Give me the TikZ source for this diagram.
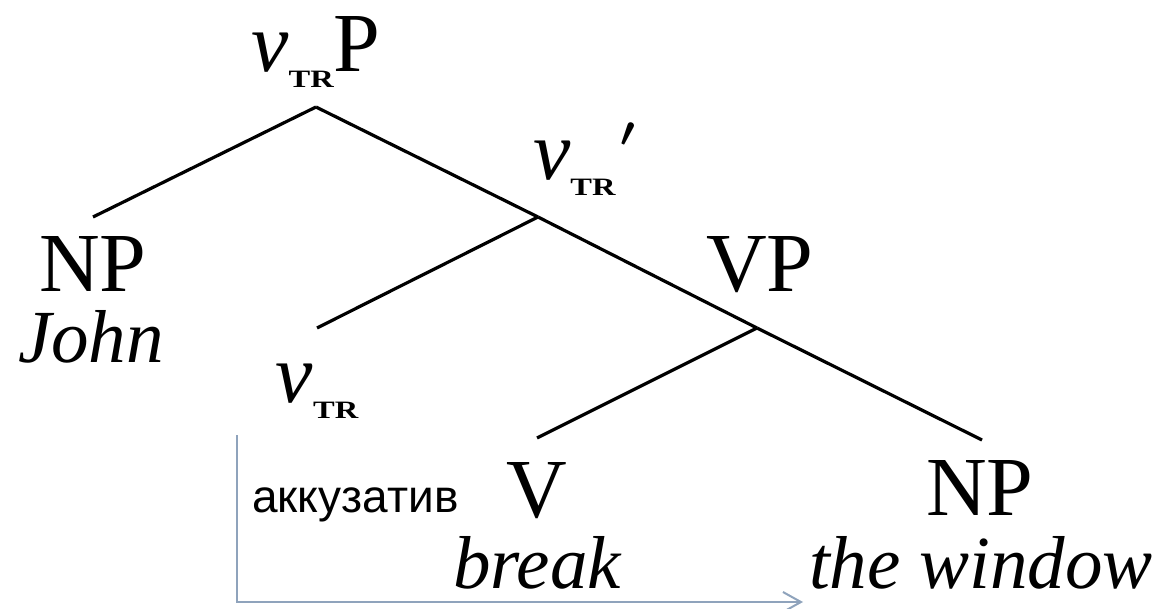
\documentclass[tikz,border=0pt]{standalone}
\usepackage{graphicx}
\usepackage{fontspec}
\setmainfont{Liberation Serif}
\newfontfamily\rusfont{Liberation Sans}
\usetikzlibrary{arrows.meta}
\definecolor{casegray}{RGB}{143,163,188}
\newcommand{\trsub}{\raisebox{-16pt}{\scalebox{1.3}[1]{\fontsize{25}{25}\selectfont\bfseries TR}}}
\newcommand{\barmark}{\raisebox{33pt}{\scalebox{1.7}{\boldmath$\prime$}}}
\tikzset{
  cat/.style={inner sep=0pt, font=\fontsize{84}{84}\selectfont},
  word/.style={inner sep=0pt, font=\fontsize{75}{75}\selectfont\itshape},
  branch/.style={line width=3.2pt},
  casearrow/.style={draw=casegray, line width=2pt, -{Straight Barb[length=18pt,width=20pt]}}
}

\begin{document}
\begin{tikzpicture}[x=1pt, y=-1pt]
		\useasboundingbox (0,0) rectangle (1161,609);
		% junctions and leaves of the tree
		\coordinate (R) at (316,107);
		\coordinate (NPa) at (93,217);
		\coordinate (Vbar) at (538,217);
		\coordinate (vtr) at (317,328);
		\coordinate (VP) at (757,328);
		\coordinate (V) at (537,438);
		\coordinate (NPb) at (982,440);
		\foreach \a/\b in {R/NPa, R/Vbar, Vbar/vtr, Vbar/VP, VP/V, VP/NPb}
			\draw[branch] (\a) -- (\b);
		% labels
		\node[cat, anchor=base] (rootlab) at (316,72) {\textit{v}\trsub P};
		\node[cat, anchor=base] (npalab) at (93,292) {NP};
		\node[word, anchor=base] (john) at (91,362) {John};
		\node[cat, anchor=base west] (vbarlab) at (533,180) {\textit{v}\trsub\hspace{5pt}\barmark};
		\node[cat, anchor=base] (vplab) at (760,292) {VP};
		\node[cat, anchor=base] (vtrlab) at (317,402) {\textit{v}\trsub};
		\node[cat, anchor=base] (vlab) at (537,517) {V};
		\node[word, anchor=base] (brk) at (537,588) {break};
		\node[cat, anchor=base] (npblab) at (980,515) {NP};
		\node[word, anchor=base] (win) at (981,588) {the window};
		% case assignment
		\node[inner sep=0pt, anchor=base west, font=\rusfont\fontsize{46}{46}\selectfont] (acc) at (252,512) {аккузатив};
		\coordinate (caseA) at (237,435);
		\coordinate (caseB) at (237,602);
		\coordinate (caseC) at (803,602);
		\draw[casearrow] (caseA) -- (caseB) -- (caseC);
	\end{tikzpicture}
\end{document}
